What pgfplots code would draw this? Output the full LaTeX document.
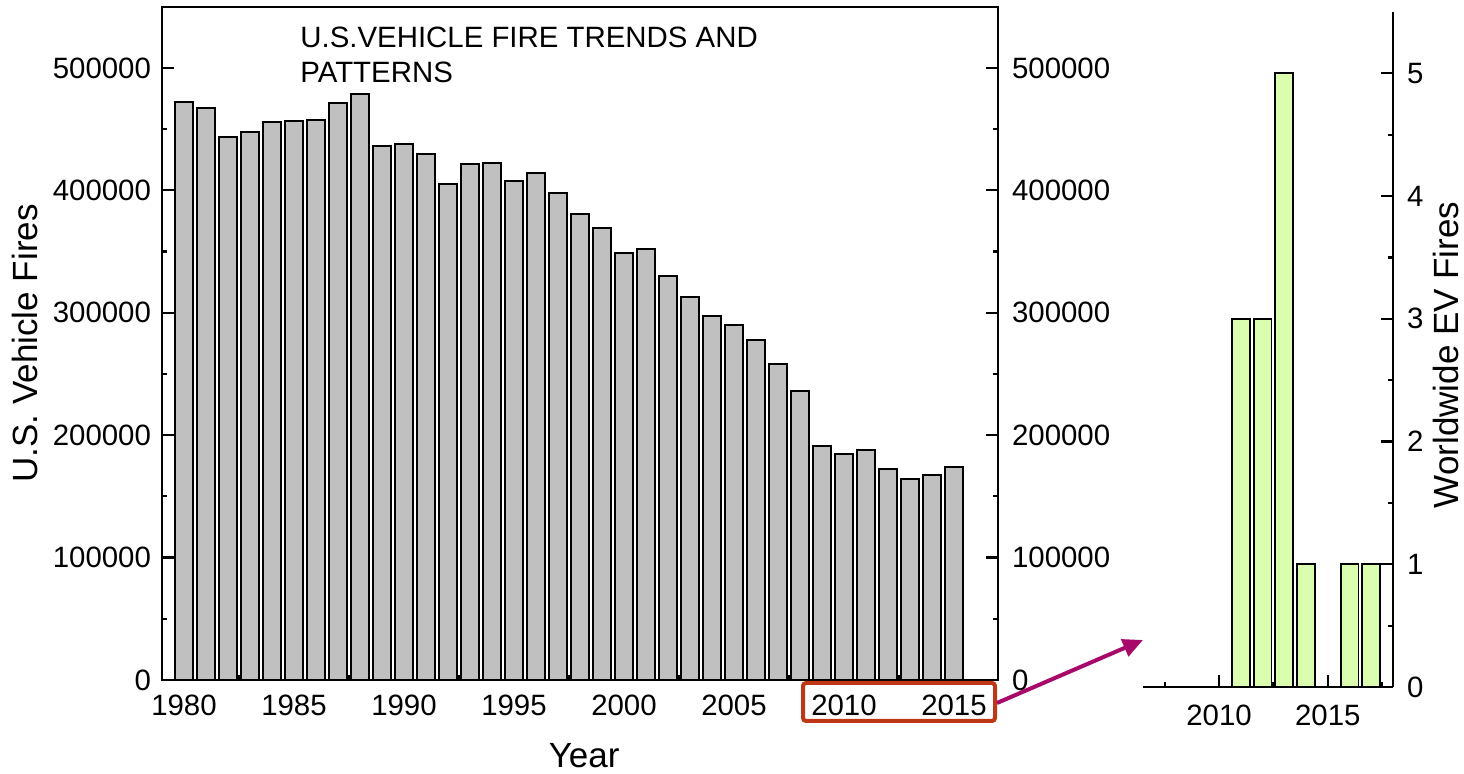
\documentclass[border=0pt]{standalone}
\usepackage{fontspec}
\setmainfont{Liberation Sans}
\usepackage{pgfplots}
\usepackage{pgfplotstable}
\pgfplotsset{compat=1.18}
\usetikzlibrary{arrows.meta}

\definecolor{barGray}{RGB}{192,192,192}
\definecolor{evGreen}{RGB}{218,253,176}
\definecolor{boxRed}{RGB}{190,56,24}
\definecolor{arrowMagenta}{RGB}{168,8,106}

% U.S. vehicle fires per year
\pgfplotstableread{
year fires
1980 472500
1981 467600
1982 443600
1983 447700
1984 455600
1985 456700
1986 457500
1987 471700
1988 478800
1989 436500
1990 437600
1991 429500
1992 405500
1993 421800
1994 422400
1995 407700
1996 414500
1997 397600
1998 381000
1999 369000
2000 349000
2001 352400
2002 330300
2003 312600
2004 297400
2005 290300
2006 278000
2007 258400
2008 236400
2009 190900
2010 184600
2011 187600
2012 172600
2013 164000
2014 167700
2015 174300
}\usfires

% Worldwide EV fires per year
\pgfplotstableread{
year fires
2011 3
2012 3
2013 5
2014 1
2016 1
2017 1
}\evfires

\newcommand{\tickfont}{\fontsize{14.7}{17}\selectfont}
\newcommand{\labelfont}{\fontsize{17.5}{21}\selectfont}

\pgfplotsset{
  common/.style={
    scale only axis,
    tick align=inside,
    axis line style={line width=1.1pt},
    every tick/.style={black, line width=1.1pt},
    major tick length=6pt,
    minor tick length=2.5pt,
    tick label style={font=\tickfont},
    /pgf/number format/assume math mode=true,
    /pgf/number format/1000 sep={},
    scaled y ticks=false,
    yticklabel style={/pgf/number format/fixed},
  },
}

\begin{document}
\begin{tikzpicture}
\useasboundingbox (0,0) rectangle (732pt,387pt);

% main panel: U.S. vehicle fires
\begin{axis}[common,
  at={(81pt,47pt)}, anchor=south west,
  width=418pt, height=336.6pt,
  xmin=1979, xmax=2017, ymin=0, ymax=550000,
  xtick={1980,1985,...,2015}, minor x tick num=1,
  ytick={0,100000,...,500000}, minor y tick num=1,
  xtick pos=bottom, ytick pos=left,
  xticklabel style={yshift=-4pt},
  yticklabel style={xshift=-2pt},
  xlabel={Year}, ylabel={U.S. Vehicle Fires},
  every axis x label/.style={at={(axis description cs:0.505,-0.112)}, anchor=center, font=\labelfont},
  every axis y label/.style={at={(axis description cs:-0.164,0.5)}, rotate=90, anchor=center, font=\labelfont},
]
\addplot[ybar, bar width=0.82, fill=barGray, draw=black, line width=0.9pt]
  table[x=year, y=fires]{\usfires};
\end{axis}

% same panel, tick labels on the right-hand side
\begin{axis}[common,
  at={(81pt,47pt)}, anchor=south west,
  width=418pt, height=336.6pt,
  xmin=1979, xmax=2017, ymin=0, ymax=550000,
  xtick=\empty,
  ytick={0,100000,...,500000}, minor y tick num=1,
  ytick pos=right, yticklabel pos=right,
  yticklabel style={xshift=3.5pt},
]
\end{axis}

% zoomed panel: worldwide EV fires
\begin{axis}[common,
  at={(571.5pt,43.5pt)}, anchor=south west,
  width=125pt, height=337.5pt,
  xmin=2006.5, xmax=2018, ymin=0, ymax=5.5,
  axis x line*=bottom, axis y line*=right,
  axis line style={line width=1.1pt, -},
  xtick={2010,2015}, minor xtick={2007.5,2012.5,2017.5},
  ytick={0,1,...,5}, minor y tick num=1,
  xticklabel style={yshift=-5.5pt},
  yticklabel style={xshift=3.5pt},
  ylabel={Worldwide EV Fires},
  every axis y label/.style={at={(axis description cs:1.212,0.492)}, rotate=90, anchor=center, font=\labelfont},
]
\addplot[ybar, bar width=0.82, fill=evGreen, draw=black, line width=0.9pt]
  table[x=year, y=fires]{\evfires};
\end{axis}

% heading
\node[anchor=base west, inner sep=0, font=\tickfont] at (150pt,363pt) {U.S.VEHICLE FIRE TRENDS AND};
\node[anchor=base west, inner sep=0, font=\tickfont] at (150pt,345.8pt) {PATTERNS};

% highlight of the recent years and pointer to the zoomed panel
\draw[boxRed, line width=2pt, rounded corners=1.5pt] (401.5pt,26.5pt) rectangle (497.5pt,45.5pt);
\draw[arrowMagenta, line width=2pt, -{Triangle[length=10pt, width=9pt]}] (498.5pt,35.5pt) -- (571.5pt,67pt);
\end{tikzpicture}
\end{document}
